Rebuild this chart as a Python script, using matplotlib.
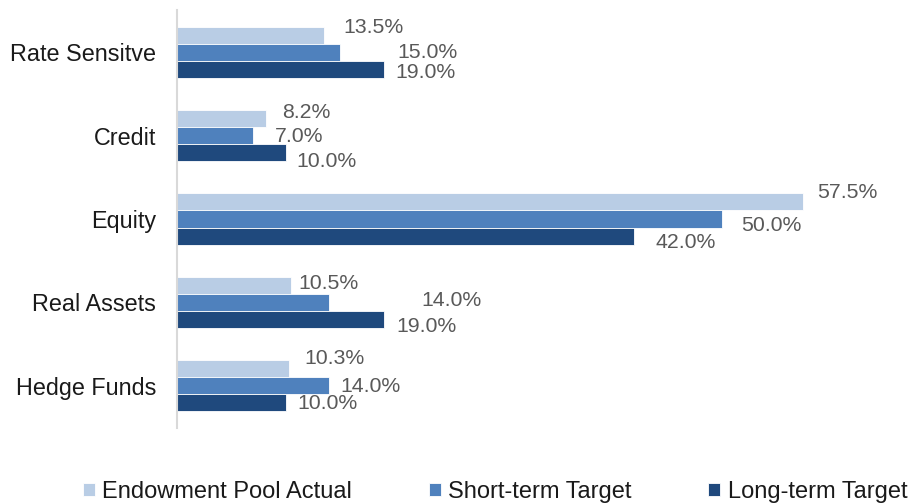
import matplotlib
matplotlib.use("Agg")
import matplotlib.pyplot as plt

categories = ["Rate Sensitve", "Credit", "Equity", "Real Assets", "Hedge Funds"]
series_names = ["Endowment Pool Actual", "Short-term Target", "Long-term Target"]
actual = [13.5, 8.2, 57.5, 10.5, 10.3]
short_term = [15.0, 7.0, 50.0, 14.0, 14.0]
long_term = [19.0, 10.0, 42.0, 19.0, 10.0]

colors = ["#B9CDE5", "#4F81BD", "#1F497D"]

# label offsets in pixels (dx right, dy up) -- labels in the source are placed by hand
label_offsets = [
    [(19, 8), (57, 0), (11, -3)],
    [(16, 6), (22, -1), (10, -9)],
    [(14, 9), (20, -7), (21, -6)],
    [(7, 2), (92, 2), (12, -7)],
    [(15, 10), (11, -1), (11, -1)],
]

plt.rcParams["font.family"] = ["Liberation Sans", "DejaVu Sans"]

fig = plt.figure(figsize=(9.08, 5.04), dpi=100)
ax = fig.add_axes([177 / 908, 1 - 428 / 504, 1 - 177 / 908, 418 / 504])

bar_h = 0.205
all_series = [actual, short_term, long_term]
for j, (vals, name) in enumerate(zip(all_series, series_names)):
    ys = [i + (j - 1) * bar_h for i in range(len(categories))]
    ax.barh(ys, vals, height=bar_h, color=colors[j], edgecolor="white",
            linewidth=0.6, label=name)
    for i, v in enumerate(vals):
        dx, dy = label_offsets[i][j]
        ax.annotate(f"{v:.1f}%", xy=(v, ys[i]), xytext=(dx, dy),
                    textcoords="offset pixels", ha="left", va="center",
                    fontsize=15.3, color="#595959")

ax.set_ylim(4.51, -0.51)
ax.set_xlim(0, (908 - 177) / 10.89)
ax.set_yticks(range(len(categories)))
ax.set_yticklabels(categories, fontsize=16.8, color="#1a1a1a")
ax.tick_params(axis="y", length=0, pad=15)
ax.set_xticks([])
for s in ["top", "right", "bottom"]:
    ax.spines[s].set_visible(False)
ax.spines["left"].set_color("#d9d9d9")
ax.spines["left"].set_linewidth(1.5)

fig.legend(loc="lower center", bbox_to_anchor=(0.545, -0.04), ncol=3,
           frameon=False, fontsize=17, handlelength=0.52, handleheight=0.52,
           handletextpad=0.3, columnspacing=3.25, labelcolor="#1a1a1a")

fig.savefig("out.png", dpi=100)
